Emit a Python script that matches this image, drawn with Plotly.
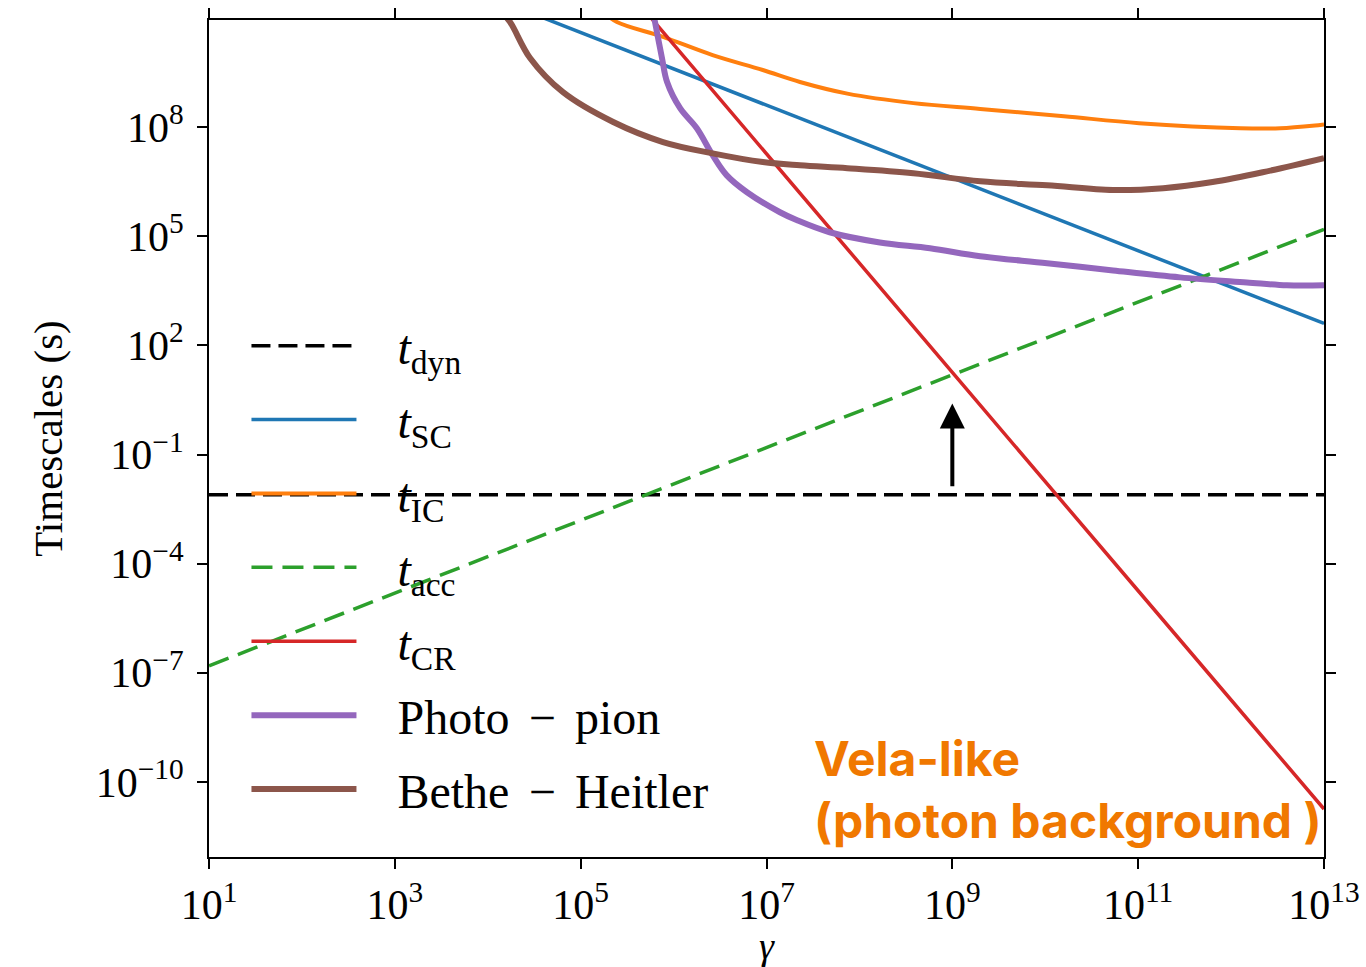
import plotly.graph_objects as go

# ---- data ----
g_dyn = [1e1, 1e13]
t_dyn = [7.9e-3, 7.9e-3]

g_sc = [1e4, 1e5, 1e7, 1e9, 1e11, 1e13]
t_sc = [4e11, 4e10, 4e8, 4e6, 4e4, 4e2]

lg_ic_x = [5.25, 5.39, 5.886, 6.42, 6.96, 7.36, 7.87, 8.58, 9.30, 10.2, 11.01, 12.10, 12.53, 12.96, 13.0]
lg_ic_y = [11.15, 10.89, 10.48, 9.98, 9.57, 9.24, 8.92, 8.66, 8.50, 8.30, 8.11, 7.97, 7.97, 8.06, 8.07]

g_acc = [1e1, 1e3, 1e5, 1e7, 1e9, 1e11, 1e13]
t_acc = [1.55e-7, 1.55e-5, 1.55e-3, 1.55e-1, 1.55e1, 1.55e3, 1.55e5]

g_cr = [3e5, 1e7, 1e9, 1e11, 1e13]
t_cr = [7e11, 1.8e7, 1.8e1, 1.8e-5, 1.8e-11]

lg_pp_x = [5.78, 5.80, 5.875, 5.93, 6.07, 6.25, 6.42, 6.57, 6.79, 7.145, 7.33, 7.68, 8.22, 8.76,
           9.30, 10.02, 10.73, 11.45, 12.17, 12.60, 13.0]
lg_pp_y = [11.15, 10.89, 9.90, 9.24, 8.52, 7.97, 7.23, 6.68, 6.21, 5.66, 5.44, 5.11, 4.83, 4.67,
           4.45, 4.26, 4.06, 3.87, 3.73, 3.65, 3.65]

lg_bh_x = [4.15, 4.24, 4.455, 4.81, 5.35, 5.886, 6.42, 6.96, 7.36, 7.87, 8.58, 9.30, 10.02, 10.73,
           11.27, 11.80, 12.34, 13.0]
lg_bh_y = [11.15, 10.89, 9.90, 8.96, 8.14, 7.59, 7.28, 7.04, 6.95, 6.87, 6.73, 6.51, 6.40, 6.27,
           6.32, 6.49, 6.76, 7.15]

x_tickvals = [1e1, 1e3, 1e5, 1e7, 1e9, 1e11, 1e13]
x_ticktext = ["10<sup>1</sup>", "10<sup>3</sup>", "10<sup>5</sup>", "10<sup>7</sup>",
              "10<sup>9</sup>", "10<sup>11</sup>", "10<sup>13</sup>"]
y_tickvals = [1e-10, 1e-7, 1e-4, 1e-1, 1e2, 1e5, 1e8]
y_ticktext = ["10<sup>−10</sup>", "10<sup>−7</sup>", "10<sup>−4</sup>", "10<sup>−1</sup>",
              "10<sup>2</sup>", "10<sup>5</sup>", "10<sup>8</sup>"]

names = ["<i>t</i><sub>dyn</sub>", "<i>t</i><sub>SC</sub>", "<i>t</i><sub>IC</sub>",
         "<i>t</i><sub>acc</sub>", "<i>t</i><sub>CR</sub>",
         "Photo\u2009\u2009−\u2009\u2009pion", "Bethe\u2009\u2009−\u2009\u2009Heitler"]

arrow_gamma_log = 9.0
arrow_from_log = -1.91
arrow_to_log = 0.40

# ---- figure ----
def p10(v):
    return [10 ** a for a in v]

pad = "\u00a0\u00a0\u00a0"
fig = go.Figure()
fig.add_trace(go.Scatter(x=g_dyn, y=t_dyn, mode="lines", name=pad + names[0], legendgroup="a",
                         line=dict(color="black", width=3.5, dash="19px,8px")))
fig.add_trace(go.Scatter(x=g_sc, y=t_sc, mode="lines", name=pad + names[1], legendgroup="b",
                         line=dict(color="#1f77b4", width=3.5)))
fig.add_trace(go.Scatter(x=p10(lg_ic_x), y=p10(lg_ic_y), mode="lines", name=pad + names[2],
                         legendgroup="c", line=dict(color="#ff7f0e", width=4, shape="spline")))
fig.add_trace(go.Scatter(x=g_acc, y=t_acc, mode="lines", name=pad + names[3], legendgroup="d",
                         line=dict(color="#2ca02c", width=3.5, dash="21px,10px")))
fig.add_trace(go.Scatter(x=g_cr, y=t_cr, mode="lines", name=pad + names[4], legendgroup="e",
                         line=dict(color="#d62728", width=3.5)))
fig.add_trace(go.Scatter(x=p10(lg_pp_x), y=p10(lg_pp_y), mode="lines", name=pad + names[5],
                         legendgroup="f", line=dict(color="#9467bd", width=6, shape="spline")))
fig.add_trace(go.Scatter(x=p10(lg_bh_x), y=p10(lg_bh_y), mode="lines", name=pad + names[6],
                         legendgroup="g", line=dict(color="#8c564b", width=6, shape="spline")))

fig.add_annotation(x=arrow_gamma_log, y=arrow_to_log, ax=arrow_gamma_log, ay=arrow_from_log,
                   xref="x", yref="y", axref="x", ayref="y", text="", showarrow=True,
                   arrowhead=2, arrowwidth=4, arrowsize=1.25, arrowcolor="black")

fig.add_annotation(x=0.5408, y=0.081, xref="paper", yref="paper", xanchor="left",
                   yanchor="middle", align="left", showarrow=False,
                   text="Vela-like<br>(photon background )",
                   font=dict(family="Inter", size=48, color="#f07800", weight="bold"))

axis_common = dict(type="log", showline=True, linecolor="black", linewidth=2, mirror="ticks",
                   ticks="outside", ticklen=10, tickwidth=2, tickcolor="black",
                   showgrid=False, zeroline=False, automargin=False,
                   tickfont=dict(family="Liberation Serif", size=42, color="black"))

fig.update_xaxes(range=[1, 13], tickvals=x_tickvals, ticktext=x_ticktext,
                 title=dict(text="<i>γ</i>", font=dict(family="Liberation Serif", size=38,
                                                      color="black"), standoff=10),
                 **axis_common)
fig.update_yaxes(range=[-12.064, 10.945], tickvals=y_tickvals, ticktext=y_ticktext,
                 ticklabelstandoff=5,
                 title=dict(text="Timescales (s)", font=dict(family="Liberation Serif", size=41,
                                                            color="black"), standoff=20),
                 **axis_common)

fig.update_layout(
    width=1366, height=967,
    margin=dict(l=209, r=42, t=20, b=110),
    paper_bgcolor="white", plot_bgcolor="white",
    showlegend=True,
    legend=dict(x=0.0336, y=0.656, xanchor="left", yanchor="top", bgcolor="rgba(0,0,0,0)",
                borderwidth=0, itemwidth=105, tracegroupgap=8.5,
                font=dict(family="Liberation Serif", size=48, color="black")),
)

fig.write_html("out.html")
